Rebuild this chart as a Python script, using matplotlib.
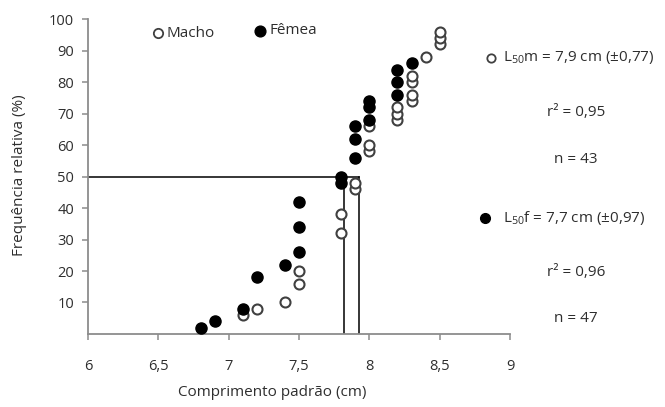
import numpy as np
import matplotlib
matplotlib.use("Agg")
import matplotlib.pyplot as plt

plt.rcParams['font.family'] = ['Open Sans', 'DejaVu Sans']
plt.rcParams['mathtext.fontset'] = 'custom'
plt.rcParams['mathtext.rm'] = 'Open Sans'
plt.rcParams['mathtext.it'] = 'Open Sans'

# --- data ---
macho_x = [7.1, 7.2, 7.4, 7.5, 7.5, 7.8, 7.8, 7.9, 7.9, 8.0, 8.0, 8.0,
           8.2, 8.2, 8.2, 8.3, 8.3, 8.3, 8.3, 8.4, 8.5, 8.5, 8.5]
macho_y = [6, 8, 10, 16, 20, 32, 38, 46, 48, 58, 60, 66,
           68, 70, 72, 74, 76, 80, 82, 88, 92, 94, 96]
femea_x = [6.8, 6.9, 7.1, 7.2, 7.4, 7.5, 7.5, 7.5, 7.8, 7.8, 7.9, 7.9, 7.9,
           8.0, 8.0, 8.0, 8.2, 8.2, 8.2, 8.3]
femea_y = [2, 4, 8, 18, 22, 26, 34, 42, 48, 50, 56, 62, 66,
           68, 72, 74, 76, 80, 84, 86]
l50_lines = [7.82, 7.93]   # vertical drop lines
l50_level = 50

x_ticks = [6, 6.5, 7, 7.5, 8, 8.5, 9]
x_labels = ['6', '6,5', '7', '7,5', '8', '8,5', '9']
y_ticks = [10, 20, 30, 40, 50, 60, 70, 80, 90, 100]

txt_color = '#2e2e2e'
axis_color = '#8c8c8c'

fig = plt.figure(figsize=(6.65, 4.07), dpi=100)
ax = fig.add_axes([0.1323, 0.1794, 0.6346, 0.7736])

ax.scatter(macho_x, macho_y, s=52, facecolors='white', edgecolors='#404040',
           linewidths=1.5, zorder=3, clip_on=False)
ax.scatter(femea_x, femea_y, s=64, color='black', zorder=4, clip_on=False)

ax.plot([6, max(l50_lines)], [l50_level, l50_level], color='black', lw=1.1, zorder=2)
for xv in l50_lines:
    ax.plot([xv, xv], [0, l50_level], color='black', lw=1.1, zorder=2)

ax.set_xlim(6, 9)
ax.set_ylim(0, 100)
ax.set_xticks(x_ticks)
ax.set_xticklabels(x_labels)
ax.set_yticks(y_ticks)
for s in ['top', 'right']:
    ax.spines[s].set_visible(False)
for s in ['left', 'bottom']:
    ax.spines[s].set_color(axis_color)
    ax.spines[s].set_linewidth(1.3)
ax.tick_params(axis='both', colors=axis_color, labelcolor=txt_color,
               labelsize=10.5, length=4, width=1.1, direction='out')
ax.tick_params(axis='x', pad=14)
ax.tick_params(axis='y', pad=6)

fig.text(0.03, 0.57, 'Frequência relativa (%)', rotation=90, ha='center',
         va='center', fontsize=11, color=txt_color)
fig.text(0.409, 0.035, 'Comprimento padrão (cm)', ha='center', va='center',
         fontsize=11, color=txt_color)

# legend at top
ax.scatter([6.5], [95.5], s=45, facecolors='white', edgecolors='#404040',
           linewidths=1.3, clip_on=False)
ax.text(6.56, 95.5, 'Macho', fontsize=11, color=txt_color, va='center')
ax.scatter([7.22], [96.2], s=60, color='black', clip_on=False)
ax.text(7.29, 96.5, 'Fêmea', fontsize=11, color=txt_color, va='center')


# right side annotations (figure coords)
def fy(py):
    return 1 - py / 407


fig.add_artist(plt.Line2D([491 / 665], [fy(58)], marker='o', markersize=6,
                          markerfacecolor='white', markeredgecolor='#404040',
                          markeredgewidth=1.3, transform=fig.transFigure))
fig.text(503 / 665, fy(58), r'L$_{50}$m = 7,9 cm (±0,77)', fontsize=11,
         color=txt_color, va='center')
fig.text(576 / 665, fy(112), 'r² = 0,95', fontsize=11, color=txt_color,
         ha='center', va='center')
fig.text(576 / 665, fy(160), 'n = 43', fontsize=11, color=txt_color,
         ha='center', va='center')
fig.add_artist(plt.Line2D([485 / 665], [fy(218)], marker='o', markersize=7,
                          color='black', transform=fig.transFigure))
fig.text(503 / 665, fy(218), r'L$_{50}$f = 7,7 cm (±0,97)', fontsize=11,
         color=txt_color, va='center')
fig.text(576 / 665, fy(272), 'r² = 0,96', fontsize=11, color=txt_color,
         ha='center', va='center')
fig.text(576 / 665, fy(318), 'n = 47', fontsize=11, color=txt_color,
         ha='center', va='center')

fig.savefig('out.png', dpi=100)
